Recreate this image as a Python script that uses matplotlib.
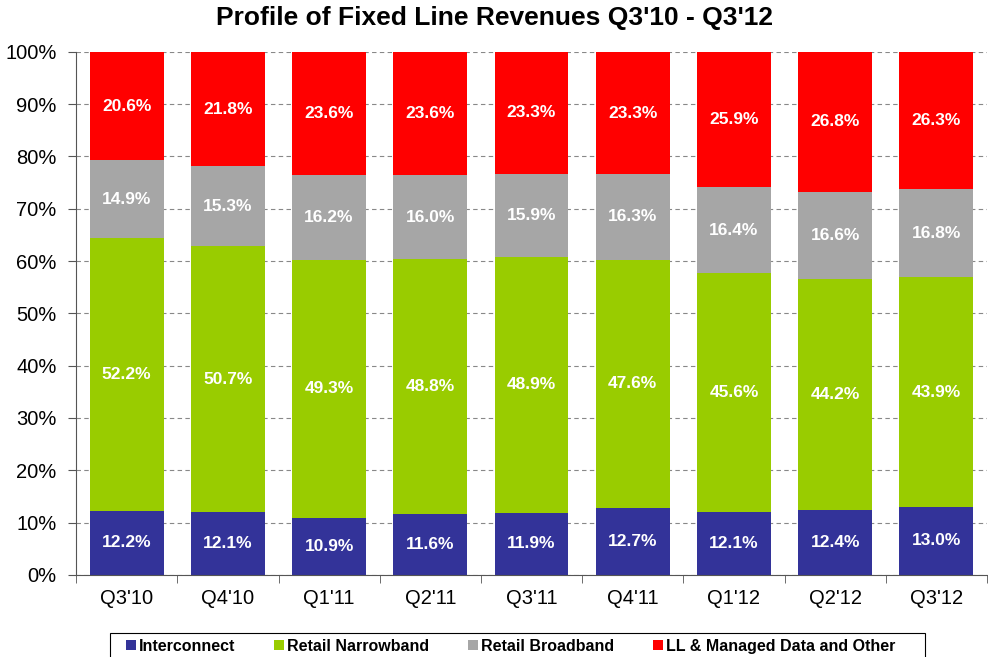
import numpy as np
import matplotlib
matplotlib.use("Agg")
import matplotlib.pyplot as plt
from matplotlib.ticker import FixedLocator
from matplotlib.patches import Rectangle

quarters = ["Q3'10", "Q4'10", "Q1'11", "Q2'11", "Q3'11", "Q4'11", "Q1'12", "Q2'12", "Q3'12"]
interconnect = [12.2, 12.1, 10.9, 11.6, 11.9, 12.7, 12.1, 12.4, 13.0]
narrowband = [52.2, 50.7, 49.3, 48.8, 48.9, 47.6, 45.6, 44.2, 43.9]
broadband = [14.9, 15.3, 16.2, 16.0, 15.9, 16.3, 16.4, 16.6, 16.8]
ll_other = [20.6, 21.8, 23.6, 23.6, 23.3, 23.3, 25.9, 26.8, 26.3]

series = [
    ("Interconnect", interconnect, "#333399"),
    ("Retail Narrowband", narrowband, "#99CC00"),
    ("Retail Broadband", broadband, "#A6A6A6"),
    ("LL & Managed Data and Other", ll_other, "#FF0000"),
]

plt.rcParams['font.family'] = ['Liberation Sans', 'DejaVu Sans']

fig = plt.figure(figsize=(9.88, 6.57), dpi=100)
ax = fig.add_axes([0.077, 0.125, 0.922, 0.796])

x = np.arange(len(quarters))
bottom = np.zeros(len(quarters))
handles = []
for name, vals, col in series:
    vals = np.array(vals)
    b = ax.bar(x, vals, 0.73, bottom=bottom, color=col, label=name, zorder=2)
    handles.append(b)
    for xi, v, bt in zip(x, vals, bottom):
        ax.text(xi, bt + v / 2, f"{v:.1f}%", ha="center", va="center",
                color="white", fontsize=12.5, fontweight="bold", zorder=3)
    bottom += vals

ax.set_xlim(-0.5, len(quarters) - 0.5)
ax.set_ylim(0, 100)
ax.set_yticks(np.arange(0, 101, 10))
ax.set_yticklabels([f"{v}%" for v in range(0, 101, 10)], fontsize=14.5)
ax.set_xticks(x)
ax.set_xticklabels(quarters, fontsize=14.5)
ax.tick_params(axis="x", length=0, pad=10)
ax.xaxis.set_minor_locator(FixedLocator(np.arange(-0.5, len(quarters), 1)))
ax.tick_params(axis="x", which="minor", length=6, color="#555555")
ax.tick_params(axis="y", length=6, color="#555555", pad=8)
ax.grid(axis="y", ls=(0, (4, 3)), color="#888888", lw=0.8, zorder=0)
for s in ["top", "right"]:
    ax.spines[s].set_visible(False)
ax.spines["left"].set_color("#555555")
ax.spines["bottom"].set_color("#555555")

fig.text(0.5, 0.972, "Profile of Fixed Line Revenues Q3'10 - Q3'12", ha="center", va="center",
         fontsize=19, fontweight="bold")

# legend box (bottom edge runs off the image like the original)
fig.patches.append(Rectangle((110 / 988, -0.02), 815 / 988, 0.02 + 24 / 657,
                             transform=fig.transFigure, fill=False,
                             edgecolor="black", lw=0.8))
leg = fig.legend(handles=handles, loc="center", bbox_to_anchor=(0.517, 0.016), ncol=4,
                 frameon=False, handlelength=0.6, handleheight=0.6, handletextpad=0.2,
                 columnspacing=2.45, prop={"weight": "bold", "size": 11.5})

fig.savefig("out.png", dpi=100)
